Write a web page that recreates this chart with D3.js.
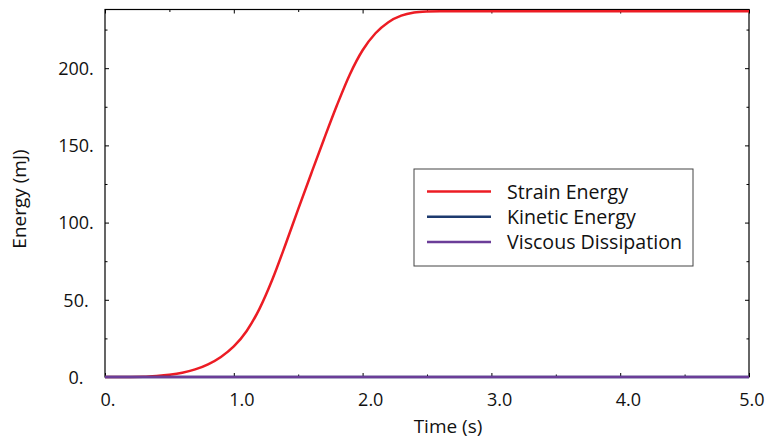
<!DOCTYPE html>
<html>
<head>
<meta charset="utf-8">
<script src="https://cdn.jsdelivr.net/npm/d3@7/dist/d3.min.js"></script>
<style>
  html, body { margin: 0; padding: 0; background: #fff; }
  svg { display: block; font-family: "Open Sans", "Noto Sans", sans-serif; }
</style>
</head>
<body>
<svg id="chart" width="766" height="445"></svg>
<script>
// Time samples (s) and energies (mJ)
const time = [0, 0.1, 0.2, 0.3, 0.4, 0.5, 0.6, 0.7, 0.8, 0.9, 1.0, 1.1, 1.2, 1.3, 1.4, 1.5,
              1.6, 1.7, 1.8, 1.9, 2.0, 2.1, 2.2, 2.3, 2.4, 2.5, 2.6, 2.8, 3.0, 3.5, 4.0, 4.5, 5.0];
const strainEnergy = [0, 0, 0, 0.1, 0.6, 1.4, 2.7, 4.9, 8.2, 13.0, 19.8, 29.8, 44.3, 63.3, 85.5, 108.7,
                      131.5, 154.0, 175.8, 195.8, 211.6, 222.6, 229.8, 234.0, 236.0, 236.7, 236.9,
                      236.9, 236.9, 236.9, 236.9, 236.9, 236.9];
const kineticEnergy = [0, 0, 0, 0, 0, 0, 0, 0, 0, 0, 0, 0, 0, 0, 0, 0,
                       0, 0, 0, 0, 0, 0, 0, 0, 0, 0, 0, 0, 0, 0, 0, 0, 0];
const viscousDissipation = [0, 0, 0, 0, 0, 0, 0, 0, 0, 0, 0, 0, 0, 0, 0, 0,
                            0, 0, 0, 0, 0, 0, 0, 0, 0, 0, 0, 0, 0, 0, 0, 0, 0];

const seriesNames = ["Strain Energy", "Kinetic Energy", "Viscous Dissipation"];
const seriesColors = ["#ec1c24", "#1d3a6e", "#6b3d98"];

const xMajor = [0, 1, 2, 3, 4, 5];
const xMinor = [0.5, 1.5, 2.5, 3.5, 4.5];
const xTickLabels = ["0.", "1.0", "2.0", "3.0", "4.0", "5.0"];
const yMajor = [0, 50, 100, 150, 200];
const yMinor = [25, 75, 125, 175, 225];
const yTickLabels = ["0.", "50.", "100.", "150.", "200."];

const margin = { left: 105, right: 17, top: 9.5, bottom: 68 };
const W = 766, H = 445;
const svg = d3.select("#chart");

const x = d3.scaleLinear().domain([0, 5]).range([margin.left, W - margin.right]);
const y = d3.scaleLinear().domain([0, 238]).range([H - margin.bottom, margin.top]);

const fs = 18;

// Axes with inward ticks on all four sides
function styleAxis(g) {
  g.select(".domain").remove();
  g.selectAll(".tick line").attr("stroke", "#000").attr("stroke-width", 1);
}

// bottom
const gB = svg.append("g").attr("transform", `translate(0,${y(0)})`)
  .call(d3.axisBottom(x).tickValues(xMajor).tickSizeInner(-4).tickSizeOuter(0)
    .tickFormat((d, i) => xTickLabels[i]));
styleAxis(gB);
gB.selectAll(".tick text")
  .attr("font-size", fs).attr("fill", "#111").attr("font-family", "Open Sans")
  .attr("text-anchor", "start").attr("y", 0).attr("dy", 0)
  .attr("x", -5).attr("transform", "translate(0,28.5)");
gB.selectAll(".tick text").filter((d, i) => i === xMajor.length - 1)
  .attr("text-anchor", "end").attr("x", 15);
svg.append("g").attr("transform", `translate(0,${y(0)})`)
  .call(d3.axisBottom(x).tickValues(xMinor).tickSizeInner(-2.5).tickSizeOuter(0).tickFormat(""))
  .call(styleAxis);

// top
svg.append("g").attr("transform", `translate(0,${y(238)})`)
  .call(d3.axisTop(x).tickValues(xMajor).tickSizeInner(-4).tickSizeOuter(0).tickFormat(""))
  .call(styleAxis);
svg.append("g").attr("transform", `translate(0,${y(238)})`)
  .call(d3.axisTop(x).tickValues(xMinor).tickSizeInner(-2.5).tickSizeOuter(0).tickFormat(""))
  .call(styleAxis);

// left
const gL = svg.append("g").attr("transform", `translate(${x(0)},0)`)
  .call(d3.axisLeft(y).tickValues(yMajor).tickSizeInner(-4).tickSizeOuter(0)
    .tickFormat((d, i) => yTickLabels[i]));
styleAxis(gL);
gL.selectAll(".tick text")
  .attr("font-size", fs).attr("fill", "#111").attr("font-family", "Open Sans")
  .attr("text-anchor", "middle").attr("x", 76 - x(0)).attr("dy", "0.35em");
svg.append("g").attr("transform", `translate(${x(0)},0)`)
  .call(d3.axisLeft(y).tickValues(yMinor).tickSizeInner(-2.5).tickSizeOuter(0).tickFormat(""))
  .call(styleAxis);

// right
svg.append("g").attr("transform", `translate(${x(5)},0)`)
  .call(d3.axisRight(y).tickValues(yMajor).tickSizeInner(-4).tickSizeOuter(0).tickFormat(""))
  .call(styleAxis);
svg.append("g").attr("transform", `translate(${x(5)},0)`)
  .call(d3.axisRight(y).tickValues(yMinor).tickSizeInner(-2.5).tickSizeOuter(0).tickFormat(""))
  .call(styleAxis);

// frame
svg.append("rect")
  .attr("x", x(0)).attr("y", y(238))
  .attr("width", x(5) - x(0)).attr("height", y(0) - y(238))
  .attr("fill", "none").attr("stroke", "#000").attr("stroke-width", 1.2);

// series
const seriesData = [strainEnergy, kineticEnergy, viscousDissipation];
const line = d3.line()
  .x(d => x(d[0])).y(d => y(d[1]))
  .curve(d3.curveMonotoneX);

seriesData.forEach((vals, k) => {
  svg.append("path")
    .datum(time.map((t, i) => [t, vals[i]]))
    .attr("d", line)
    .attr("fill", "none")
    .attr("stroke", seriesColors[k])
    .attr("stroke-width", 2.5);
});

// axis titles
svg.append("text")
  .attr("x", 448).attr("y", 433)
  .attr("text-anchor", "middle").attr("font-size", 19).attr("fill", "#111")
  .text("Time (s)");
svg.append("text")
  .attr("transform", "translate(26,199) rotate(-90)")
  .attr("text-anchor", "middle").attr("font-size", 19).attr("fill", "#111")
  .text("Energy (mJ)");

// legend
const lg = svg.append("g").attr("transform", "translate(414,169)");
lg.append("rect").attr("width", 279).attr("height", 97)
  .attr("fill", "#fff").attr("stroke", "#444").attr("stroke-width", 1);
seriesNames.forEach((name, k) => {
  const ly = 22.5 + k * 25.3;
  lg.append("line").attr("x1", 13).attr("x2", 77).attr("y1", ly).attr("y2", ly)
    .attr("stroke", seriesColors[k]).attr("stroke-width", 2.5);
  lg.append("text").attr("x", 93).attr("y", ly).attr("dy", "0.36em")
    .attr("font-size", 19.6).attr("fill", "#111").text(name);
});
</script>
</body>
</html>
